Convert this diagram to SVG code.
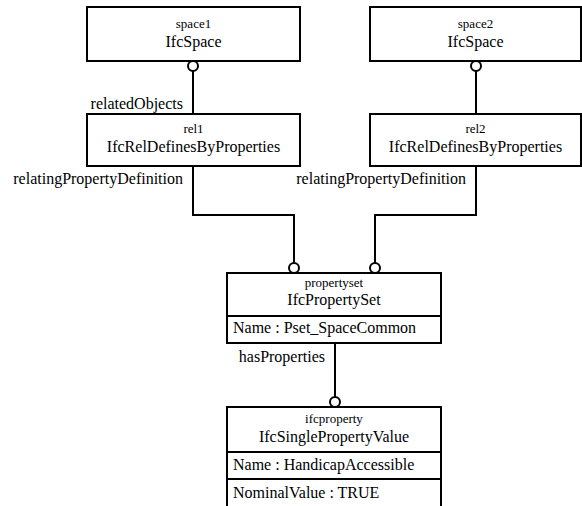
<svg xmlns="http://www.w3.org/2000/svg" width="582" height="506" viewBox="0 0 582 506" font-family="'Liberation Serif', 'Times New Roman', 'DejaVu Serif', serif">
<style>
.box{fill:#fff;stroke:#000;stroke-width:2}
.ln{fill:none;stroke:#000;stroke-width:2}
.dot{fill:#fff;stroke:#000;stroke-width:2}
.s{font-size:13px;text-anchor:middle}
.b{font-size:16px;text-anchor:middle}
.a{font-size:16px}
.lbl{font-size:16px;text-anchor:end}
</style>
<rect width="582" height="506" fill="#fff"/>
<g id="connectors">
<line class="ln" x1="193" y1="71" x2="193" y2="114"/>
<circle class="dot" cx="193" cy="66" r="5"/>
<text class="lbl" x="183" y="109">relatedObjects</text>
<line class="ln" x1="476" y1="71" x2="476" y2="114"/>
<circle class="dot" cx="476" cy="66" r="5"/>
<polyline class="ln" points="193,166 193,215 294,215 294,263"/>
<circle class="dot" cx="294" cy="268" r="5"/>
<text class="lbl" x="183" y="184">relatingPropertyDefinition</text>
<polyline class="ln" points="476,166 476,215 375,215 375,263"/>
<circle class="dot" cx="375" cy="268" r="5"/>
<text class="lbl" x="466" y="184">relatingPropertyDefinition</text>
<line class="ln" x1="335" y1="343" x2="335" y2="397"/>
<circle class="dot" cx="335" cy="402" r="5"/>
<text class="lbl" x="325" y="362">hasProperties</text>
</g>
<g id="space1">
<rect class="box" x="87" y="7" width="213" height="54"/>
<text class="s" x="193.5" y="28">space1</text>
<text class="b" x="193.5" y="47">IfcSpace</text>
</g>
<g id="space2">
<rect class="box" x="370" y="7" width="211" height="54"/>
<text class="s" x="475.5" y="28">space2</text>
<text class="b" x="475.5" y="47">IfcSpace</text>
</g>
<g id="rel1">
<rect class="box" x="87" y="114" width="213" height="52"/>
<text class="s" x="193.5" y="133">rel1</text>
<text class="b" x="193.5" y="152">IfcRelDefinesByProperties</text>
</g>
<g id="rel2">
<rect class="box" x="370" y="114" width="211" height="52"/>
<text class="s" x="475.5" y="133">rel2</text>
<text class="b" x="475.5" y="152">IfcRelDefinesByProperties</text>
</g>
<g id="propertyset">
<rect class="box" x="227" y="273" width="214" height="70"/>
<line class="ln" x1="227" y1="316" x2="441" y2="316"/>
<text class="s" x="334" y="287">propertyset</text>
<text class="b" x="334" y="305">IfcPropertySet</text>
<text class="a" x="233" y="333">Name : Pset_SpaceCommon</text>
</g>
<g id="ifcproperty">
<rect class="box" x="227" y="407" width="214" height="113"/>
<line class="ln" x1="227" y1="452" x2="441" y2="452"/>
<line class="ln" x1="227" y1="479" x2="441" y2="479"/>
<text class="s" x="334" y="423">ifcproperty</text>
<text class="b" x="334" y="442">IfcSinglePropertyValue</text>
<text class="a" x="233" y="470">Name : HandicapAccessible</text>
<text class="a" x="233" y="498">NominalValue : TRUE</text>
</g>
</svg>
